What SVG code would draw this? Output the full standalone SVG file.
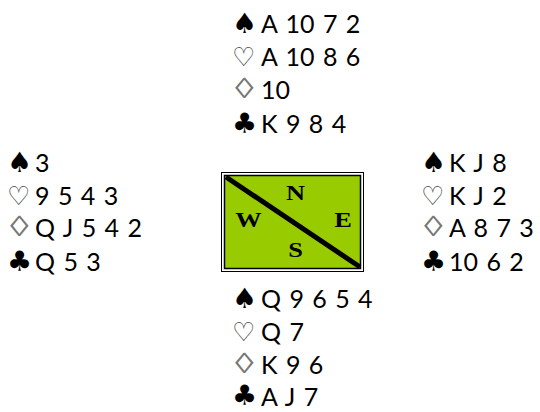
<svg xmlns="http://www.w3.org/2000/svg" width="540" height="412" viewBox="0 0 540 412">
<style>
.c{font-family:"Lato","Open Sans","Liberation Sans",sans-serif;font-size:25px;fill:#000;word-spacing:2px}
.s{font-family:"DejaVu Sans",sans-serif;font-size:28px;fill:#000}
.o{fill:#444;font-size:26px}
.d{font-family:"Liberation Sans",sans-serif;font-size:29px;fill:#777}
.l{font-family:"Liberation Serif","Times New Roman",serif;font-weight:900;font-size:22px;fill:#000;text-anchor:middle}
</style>
<rect width="540" height="412" fill="#fff"/>
<g id="north">
<text class="s" x="232" y="33">♠</text><text class="c" x="261" y="33">A 10 7 2</text>
<text class="s o" x="232" y="66">♡</text><text class="c" x="261" y="66">A 10 8 6</text>
<text class="d" transform="translate(235 98) scale(1.3 1)">◊</text><text class="c" x="261" y="99">10</text>
<text class="s" x="232" y="133">♣</text><text class="c" x="261" y="133">K 9 8 4</text>
</g>
<g id="west">
<text class="s" x="7" y="172">♠</text><text class="c" x="35" y="172">3</text>
<text class="s o" x="7" y="205">♡</text><text class="c" x="35" y="205">9 5 4 3</text>
<text class="d" transform="translate(10 236) scale(1.3 1)">◊</text><text class="c" x="35" y="237">Q J 5 4 2</text>
<text class="s" x="7" y="271">♣</text><text class="c" x="35" y="271">Q 5 3</text>
</g>
<g id="east">
<text class="s" x="421" y="172">♠</text><text class="c" x="449" y="172">K J 8</text>
<text class="s o" x="421" y="205">♡</text><text class="c" x="449" y="205">K J 2</text>
<text class="d" transform="translate(424 236) scale(1.3 1)">◊</text><text class="c" x="449" y="237">A 8 7 3</text>
<text class="s" x="421" y="271">♣</text><text class="c" x="449" y="271">10 6 2</text>
</g>
<g id="south">
<text class="s" x="232" y="308">♠</text><text class="c" x="261" y="308">Q 9 6 5 4</text>
<text class="s o" x="232" y="341">♡</text><text class="c" x="261" y="341">Q 7</text>
<text class="d" transform="translate(235 373) scale(1.3 1)">◊</text><text class="c" x="261" y="374">K 9 6</text>
<text class="s" x="232" y="405">♣</text><text class="c" x="261" y="406">A J 7</text>
</g>
<g id="compass">
<rect x="221.5" y="172.5" width="142" height="99" fill="#fff" stroke="#000" stroke-width="1"/>
<rect x="224.5" y="175.5" width="136" height="93" fill="#99cc00" stroke="#000" stroke-width="1.5"/>
<line x1="226" y1="177" x2="360" y2="267" stroke="#000" stroke-width="5"/>
<text class="l" x="295.5" y="200" transform="translate(295.5 0) scale(1.2 1) translate(-295.5 0)">N</text>
<text class="l" x="248.5" y="227" transform="translate(248.5 0) scale(1.2 1) translate(-248.5 0)">W</text>
<text class="l" x="343" y="227" transform="translate(343 0) scale(1.2 1) translate(-343 0)">E</text>
<text class="l" x="295.5" y="257" transform="translate(295.5 0) scale(1.2 1) translate(-295.5 0)">S</text>
</g>
</svg>
